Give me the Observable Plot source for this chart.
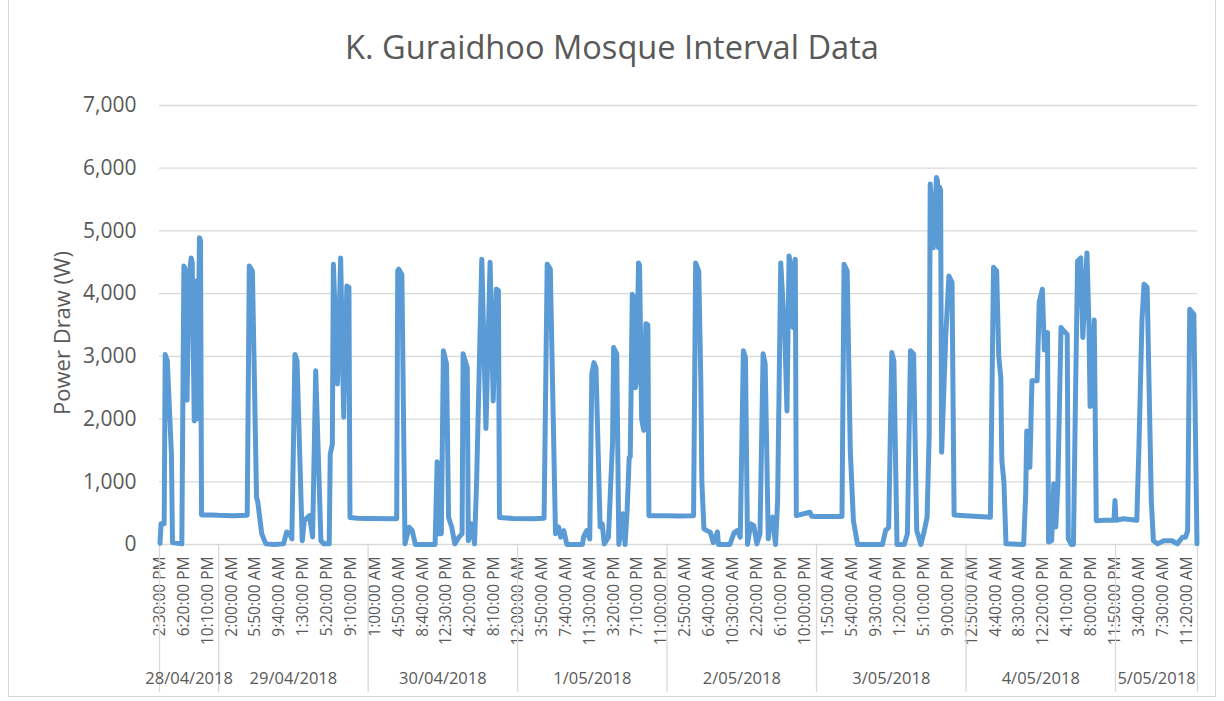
<!DOCTYPE html>
<html>
<head>
<meta charset="utf-8">
<script src="https://cdn.jsdelivr.net/npm/d3@7"></script>
<script src="https://cdn.jsdelivr.net/npm/@observablehq/plot@0.6"></script>
<style>
  body { margin: 0; background: #fff; font-family: "Open Sans", sans-serif; }
  #chart { position: relative; width: 1224px; height: 701px; overflow: hidden; }
  #frame { position: absolute; left: 8px; top: -2px; width: 1208px; height: 699px; border: 1px solid #d9d9d9; box-sizing: border-box; pointer-events: none; }
  #title { height: 85px; box-sizing: border-box; padding-top: 27px; text-align: center; font-size: 32.6px; line-height: 40px; color: #595959; }
  svg { display: block; }
</style>
</head>
<body>
<div id="chart">
  <div id="frame"></div>
  <div id="title">K. Guraidhoo Mosque Interval Data</div>
  <div id="plot"></div>
</div>
<script>
// 10-minute interval number (0 = 28/04/2018 2:30 PM) and power draw (W)
const intervalIndex = [
  0,1,4,5,7,11,12,21,23,24,26,28,30,31,33,35,36,38,39,40,50,56,
  70,84,86,89,93,94,98,102,110,119,122,125,127,130,132,137,139,142,144,147,150,155,158,163,164,166,167,171,174,177,180,182,183,190,200,
  228,229,230,233,236,240,243,246,265,267,268,271,273,276,278,281,284,288,291,292,296,297,300,303,305,310,314,318,321,324,326,327,340,
  360,370,373,376,379,381,384,386,389,392,407,408,411,414,416,418,420,424,426,428,432,436,437,440,442,446,448,450,452,453,455,456,458,459,461,462,464,466,468,470,471,488,
  500,514,516,519,521,522,524,527,530,533,537,538,549,553,556,559,562,564,566,569,572,575,578,581,583,586,588,590,593,595,598,602,604,606,607,610,612,613,626,628,632,
  657,659,662,665,668,672,696,699,702,705,707,710,717,720,723,726,729,733,736,739,741,742,745,748,749,750,751,752,753,757,760,763,765,776,
  797,800,803,806,808,810,811,813,815,832,834,835,838,840,845,847,850,852,855,856,859,861,863,865,868,871,874,875,878,880,882,884,887,889,893,895,896,898,900,902,910,919,920,921,
  928,941,943,946,948,951,955,957,961,967,975,980,985,988,990,992,996,999
];
const powerW = [
  20,330,330,3030,2930,1440,30,10,4440,4400,2300,4250,4570,4500,1970,4200,2000,4890,4850,470,470,465,
  460,465,4440,4360,750,700,170,10,0,10,200,170,90,3030,2930,60,380,430,460,120,2770,60,10,10,1440,1600,4470,2560,4570,2030,4120,4100,430,420,415,
  410,4360,4390,4300,10,275,220,0,0,1320,170,170,3090,2880,430,280,10,117,170,3040,2820,60,330,10,1000,4550,1850,4500,2290,4070,4050,430,415,
  410,420,4470,4390,1870,170,280,117,220,0,0,117,220,90,2720,2900,2820,280,330,10,117,1650,3140,3040,0,490,0,540,1390,1400,3990,3950,2500,2600,4490,4450,2000,1820,3520,3500,460,460,
  455,460,4490,4360,2600,1000,250,220,200,30,200,0,0,186,222,116,3090,2980,0,330,300,10,170,3040,2880,90,410,435,0,700,4490,3300,2130,4600,4520,3460,4550,460,514,450,445,
  445,4470,4360,1500,380,0,0,222,275,3060,2930,0,0,170,3090,3035,222,0,196,435,1760,5750,4730,5850,5800,4730,5700,5650,1470,3330,4280,4180,470,460,
  440,435,4420,4360,3000,2660,1340,1000,10,0,810,1810,1230,2610,2610,3860,4070,3100,3380,40,60,970,280,970,3460,3400,3350,90,0,0,2400,4520,4570,3300,4650,3450,2200,2240,3580,380,385,385,700,385,
  410,385,1500,3570,4150,4100,700,60,10,60,60,10,117,117,220,3750,3670,10
];

// category axis: a time label every 23 intervals
const tickLabels = [
  "2:30:00 PM","6:20:00 PM","10:10:00 PM","2:00:00 AM","5:50:00 AM","9:40:00 AM","1:30:00 PM","5:20:00 PM","9:10:00 PM",
  "1:00:00 AM","4:50:00 AM","8:40:00 AM","12:30:00 PM","4:20:00 PM","8:10:00 PM","12:00:00 AM","3:50:00 AM","7:40:00 AM",
  "11:30:00 AM","3:20:00 PM","7:10:00 PM","11:00:00 PM","2:50:00 AM","6:40:00 AM","10:30:00 AM","2:20:00 PM","6:10:00 PM",
  "10:00:00 PM","1:50:00 AM","5:40:00 AM","9:30:00 AM","1:20:00 PM","5:10:00 PM","9:00:00 PM","12:50:00 AM","4:40:00 AM",
  "8:30:00 AM","12:20:00 PM","4:10:00 PM","8:00:00 PM","11:50:00 PM","3:40:00 AM","7:30:00 AM","11:20:00 AM"
];
const tickStep = 23;
const dayLabels = ["28/04/2018","29/04/2018","30/04/2018","1/05/2018","2/05/2018","3/05/2018","4/05/2018","5/05/2018"];
const dayStartIndex = [0, 57, 201, 345, 489, 633, 777, 921];
const intervalCount = 1000;
const yTicks = [0, 1000, 2000, 3000, 4000, 5000, 6000, 7000];
const yTitle = "Power Draw (W)";

const series = intervalIndex.map((i, k) => ({i, w: powerW[k]}));
const tickIdx = tickLabels.map((_, k) => k * tickStep);
const tickMap = new Map(tickIdx.map((t, k) => [t, tickLabels[k]]));
const dayBounds = [...dayStartIndex.map(s => s - 0.5), intervalCount - 0.5];
const dayCenters = dayStartIndex.map((s, k) => (s - 0.5 + dayBounds[k + 1]) / 2);
const dayMap = new Map(dayCenters.map((c, k) => [c, dayLabels[k]]));

const chart = Plot.plot({
  width: 1224,
  height: 616,
  marginLeft: 159,
  marginRight: 27,
  marginTop: 20,
  marginBottom: 157,
  x: {domain: [-0.5, intervalCount - 0.5]},
  y: {domain: [0, 7000]},
  style: {fontFamily: "Open Sans, sans-serif", color: "#595959", background: "transparent"},
  marks: [
    Plot.gridY(yTicks, {stroke: "#d9d9d9", strokeOpacity: 1, strokeWidth: 1.3}),
    Plot.axisY(yTicks, {tickSize: 0, tickPadding: 23, tickFormat: d3.format(","), fontSize: 21, fill: "#595959", label: null}),
    Plot.text([yTitle], {text: d => d, frameAnchor: "left", textAnchor: "middle", rotate: -90, dx: -97, dy: 8, fontSize: 22, fill: "#595959"}),
    Plot.axisX(tickIdx, {tickSize: 0, tickRotate: -90, tickPadding: 12, tickFormat: d => tickMap.get(d), fontSize: 15.5, fill: "#595959", label: null}),
    Plot.axisX(dayBounds, {tickSize: 148, tickFormat: () => "", stroke: "#d9d9d9", strokeOpacity: 1, strokeWidth: 1.3, label: null}),
    Plot.axisX(dayCenters, {tickSize: 0, tickPadding: 128, tickFormat: d => dayMap.get(d), fontSize: 16.5, fill: "#595959", label: null}),
    Plot.line(series, {x: "i", y: "w", stroke: "#5B9BD5", strokeWidth: 5, strokeLinejoin: "round", strokeLinecap: "round"})
  ]
});
document.getElementById("plot").appendChild(chart);
</script>
</body>
</html>
